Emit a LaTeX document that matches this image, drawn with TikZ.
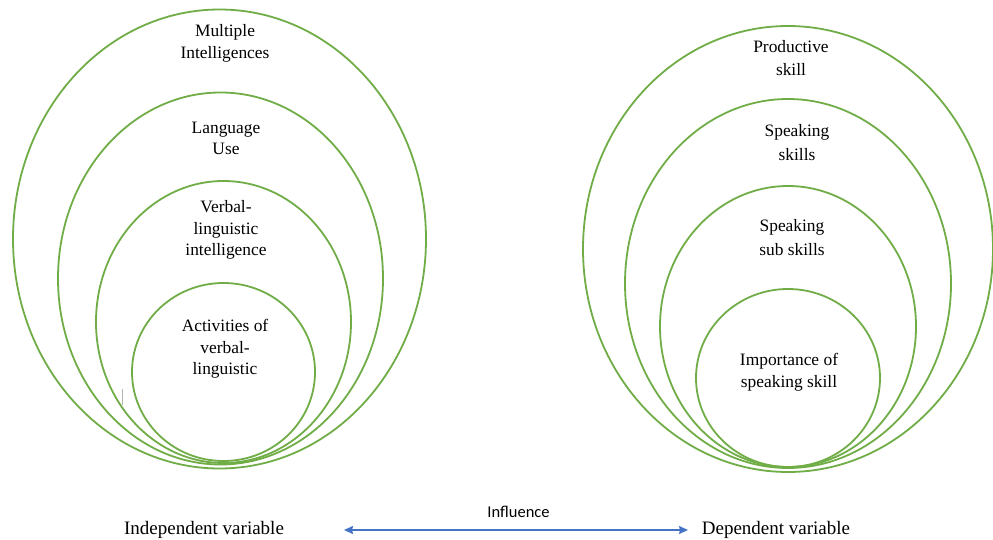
\documentclass[tikz,border=0pt]{standalone}
\usepackage{fontspec}
\setmainfont{Liberation Serif}
\newfontfamily\calib{Carlito}
\usetikzlibrary{shapes.geometric,arrows.meta}
\definecolor{ringgreen}{HTML}{70AD47}
\definecolor{arrowblue}{HTML}{4472C4}
\tikzset{
  ring/.style={ellipse,draw=ringgreen,line width=1.8pt,inner sep=0pt,outer sep=0pt},
  lbl/.style={align=center,inner sep=0pt,font=\fontsize{17.4}{21.5}\selectfont},
  lblw/.style={align=center,inner sep=0pt,font=\fontsize{17.4}{23.5}\selectfont},
  varlbl/.style={inner sep=0pt,font=\fontsize{19}{22}\selectfont},
}
\begin{document}
\begin{tikzpicture}[x=1pt,y=-1pt]
\useasboundingbox[fill=white] (0,0) rectangle (993,540);
% left group
\node[ring,minimum width=413,minimum height=459] (L1) at (219.5,239) {};
\node[ring,minimum width=325,minimum height=372] (L2) at (220.5,278.5) {};
\node[ring,minimum width=255,minimum height=282] (L3) at (223.5,322) {};
\node[ring,minimum width=183,minimum height=178] (L4) at (223.5,372) {};
\node[lbl] (t1) at (225,43.5) {Multiple\\Intelligences};
\node[lbl] (t2) at (226,138.5) {Language\\Use};
\node[lbl] (t3) at (226,230) {Verbal-\\linguistic\\intelligence};
\node[lbl] (t4) at (225,349) {Activities of\\verbal-\\linguistic};
% right group
\node[ring,minimum width=410,minimum height=446] (R1) at (788,249) {};
\node[ring,minimum width=326,minimum height=369] (R2) at (788,283.5) {};
\node[ring,minimum width=256,minimum height=281] (R3) at (788,326.5) {};
\node[ring,minimum width=184,minimum height=178] (R4) at (788,378) {};
\node[lblw] (s1) at (791,58) {Productive\\skill};
\node[lblw] (s2) at (797,142.5) {Speaking\\skills};
\node[lblw] (s3) at (792,237.5) {Speaking\\sub skills};
\node[lbl] (s4) at (789,372.5) {Importance of\\speaking skill};
% small artifact line
\coordinate (artA) at (122,389);
\coordinate (artB) at (122,405);
\draw[gray!60,line width=0.5pt] (artA) -- (artB);
% bottom
\node[varlbl] (indep) at (204,530) {Independent variable};
\node[varlbl] (dep) at (776,530) {Dependent variable};
\node[inner sep=0pt,font=\calib\fontsize{16.5}{19}\selectfont] (infl) at (518.5,512) {Influence};
\coordinate (arrL) at (344,530);
\coordinate (arrR) at (688,530);
\draw[arrowblue,line width=1.2pt,{Stealth[length=9pt,width=8pt,inset=1pt]}-{Stealth[length=9pt,width=8pt,inset=1pt]}] (arrL) -- (arrR);
\end{tikzpicture}
\end{document}
